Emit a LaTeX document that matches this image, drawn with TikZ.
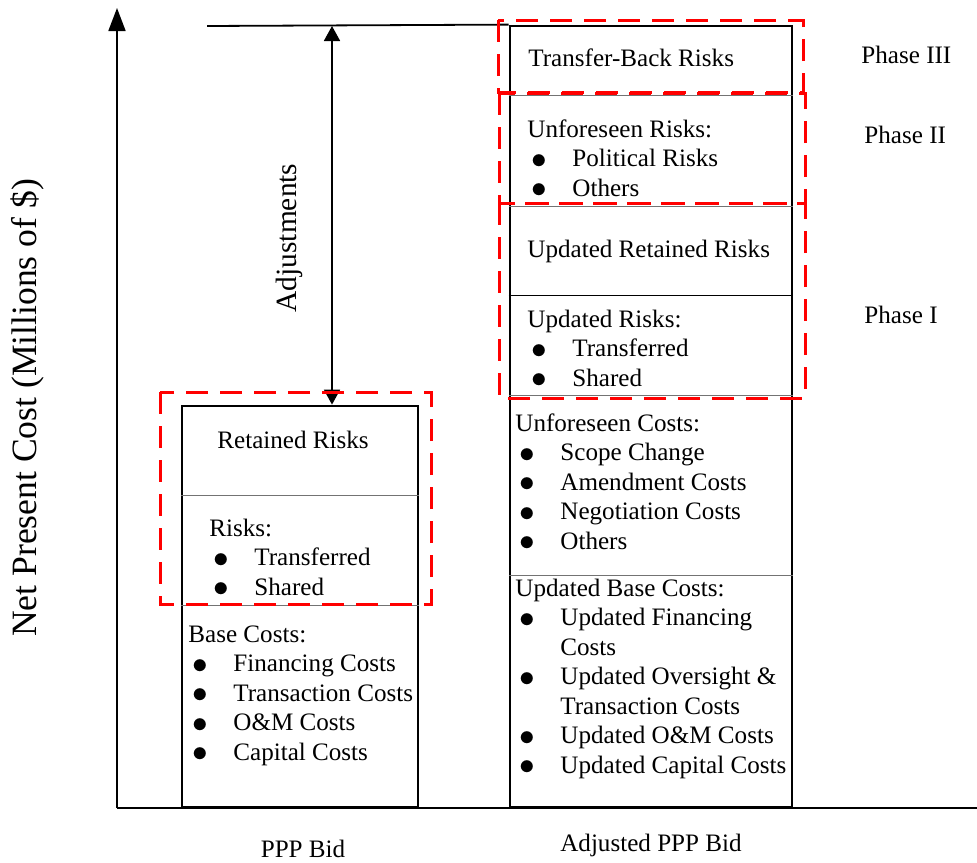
\documentclass[tikz,border=0pt]{standalone}
\usepackage{fontspec}
\setmainfont{Liberation Serif}
\usetikzlibrary{arrows.meta,positioning}
\newcommand{\itm}[1]{\hspace*{2pt}\makebox[20.5pt][l]{\raisebox{-0.9pt}{\scalebox{1.3}{$\bullet$}}}#1}

\begin{document}
\begin{tikzpicture}[x=0.5pt,y=-0.5pt,
		every node/.style={inner sep=0pt,font=\fontsize{12.55}{14.75}\selectfont}]
	\tikzstyle{bar}=[draw=black,line width=1.4pt]
	\tikzstyle{part}=[draw=black!55,line width=0.5pt]
	\tikzstyle{phase}=[draw=red,line width=1.5pt,dash pattern=on 11pt off 6pt]
	\tikzstyle{txt}=[anchor=base west,align=left]
	\tikzstyle{axis}=[line width=0.9pt]

	\useasboundingbox (0,0) rectangle (977,862);

	\coordinate (origin) at (117,808);
	\coordinate (ytip) at (117,8);
	\coordinate (xend) at (977,808);
	\draw[axis,-{Triangle[length=11.5pt,width=8.5pt]}] (origin) -- (ytip);
	\draw[axis] (origin) -- (xend);
	\node[rotate=90,font=\fontsize{17.8}{21}\selectfont] (ylabel) at (27,408) {Net Present Cost (Millions of \$)};

	\node[bar,minimum width=118pt,minimum height=200.5pt] (bid) at (300,606.5) {};
	\node[bar,minimum width=141pt,minimum height=390.5pt] (adj) at (651,416.5) {};

	\draw[part] (bid.west |- 0,495) -- (bid.east |- 0,495);
	\draw[part] (bid.west |- 0,605) -- (bid.east |- 0,605);
	\draw[part] (adj.west |- 0,95) -- (adj.east |- 0,95);
	\draw[part] (adj.west |- 0,206) -- (adj.east |- 0,206);
	\draw[part,draw=black] (adj.west |- 0,295) -- (adj.east |- 0,295);
	\draw[part] (adj.west |- 0,395) -- (adj.east |- 0,395);
	\draw[part] (adj.west |- 0,575) -- (adj.east |- 0,575);

	\coordinate (top) at (207,26);
	\coordinate (adjtop) at (332,26);
	\draw[axis] (top) -- (adj.north west);
	\draw[axis,{Triangle[length=7.5pt,width=8pt]}-{Triangle[length=7.5pt,width=8pt]}] (adjtop) -- (adjtop |- bid.north);
	\node[rotate=90,font=\fontsize{14.7}{17}\selectfont] (adjlabel) at (289,238) {Adjustments};

	\node[txt] (retained) at (217,448) {Retained Risks};
	\node[txt] (risks) at (209,595) {Risks:\\\itm{Transferred}\\\itm{Shared}};
	\node[txt] (base) at (188,760) {Base Costs:\\\itm{Financing Costs}\\\itm{Transaction Costs}\\\itm{O\&M Costs}\\\itm{Capital Costs}};

	\node[txt] (transback) at (528,66) {Transfer-Back Risks};
	\node[txt] (unfrisks) at (527,196) {Unforeseen Risks:\\\itm{Political Risks}\\\itm{Others}};
	\node[txt] (updretained) at (527,257) {Updated Retained Risks};
	\node[txt] (updrisks) at (527,386) {Updated Risks:\\\itm{Transferred}\\\itm{Shared}};
	\node[txt] (unfcosts) at (515,549) {Unforeseen Costs:\\\itm{Scope Change}\\\itm{Amendment Costs}\\\itm{Negotiation Costs}\\\itm{Others}};
	\node[txt] (updbase) at (515,773) {Updated Base Costs:\\\itm{Updated Financing}\\\hspace*{22.5pt}Costs\\\itm{Updated Oversight \&}\\\hspace*{22.5pt}Transaction Costs\\\itm{Updated O\&M Costs}\\\itm{Updated Capital Costs}};

	\node[txt] (phase3) at (861,63) {Phase III};
	\node[txt] (phase2) at (864,143) {Phase II};
	\node[txt] (phase1) at (864,323) {Phase I};

	\node[anchor=base] (bidname) at (303,857) {PPP Bid};
	\node[anchor=base] (adjname) at (651,851) {Adjusted PPP Bid};

	\draw[phase] (160,392) rectangle (431,604);
	\draw[phase] (498,20) rectangle (803,92);
	\draw[phase] (499,93) rectangle (805,203);
	\draw[phase] (499,203) rectangle (805,398);
\end{tikzpicture}
\end{document}
